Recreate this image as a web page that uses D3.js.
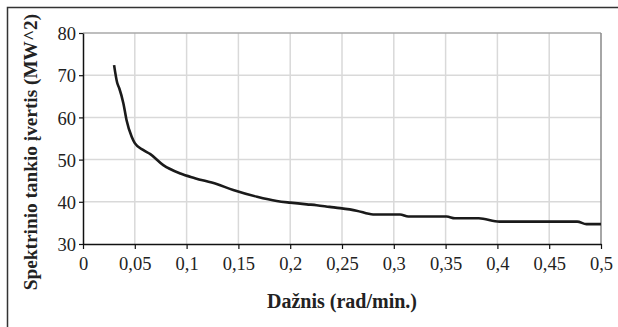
<!DOCTYPE html>
<html>
<head>
<meta charset="utf-8">
<script src="https://cdn.jsdelivr.net/npm/d3@7"></script>
<style>
	html, body { margin: 0; padding: 0; background: #fff; }
	svg text { font-family: "Liberation Serif", "DejaVu Serif", serif; fill: #222; }
</style>
</head>
<body>
<div id="chart"></div>
<script>
// spektrinio tankio įvertis pagal dažnį
const freq = [0.030, 0.033, 0.035, 0.039, 0.042, 0.047, 0.050, 0.058, 0.065, 0.0775, 0.094, 0.108,
	0.129, 0.145, 0.168, 0.187, 0.200, 0.216, 0.2255, 0.238, 0.248, 0.264, 0.280, 0.306, 0.314,
	0.351, 0.359, 0.382, 0.402, 0.477, 0.486, 0.500];
const density = [72.4, 68.2, 66.9, 63.3, 59.4, 55.4, 53.9, 52.3, 51.3, 48.7, 46.7, 45.6,
	44.2, 42.8, 41.2, 40.2, 39.8, 39.4, 39.2, 38.8, 38.5, 37.9, 37.0, 37.0, 36.5,
	36.5, 36.1, 36.1, 35.3, 35.3, 34.7, 34.7];
const xTicks = [0, 0.05, 0.1, 0.15, 0.2, 0.25, 0.3, 0.35, 0.4, 0.45, 0.5];
const yTicks = [30, 40, 50, 60, 70, 80];
const xTitle = 'Dažnis (rad/min.)';
const yTitle = 'Spektrinio tankio įvertis (MW^2)';

const width = 618;
const height = 327;
const margin = { left: 83, right: 17, top: 33, bottom: 83 };

const svg = d3.select('#chart')
	.append('svg')
		.attr('width', width)
		.attr('height', height);

// išorinis rėmelis
svg.append('path')
	.attr('d', `M7.5,${height + 2}V7.5H${width + 2}`)
	.attr('fill', 'none')
	.attr('stroke', '#333')
	.attr('stroke-width', 1.5);

const xScale = d3.scaleLinear()
	.domain([0, 0.5])
	.range([margin.left, width - margin.right]);
const yScale = d3.scaleLinear()
	.domain([30, 80])
	.range([height - margin.bottom, margin.top]);

const xStart = xScale(0), xEnd = xScale(0.5);
const yStart = yScale(30), yEnd = yScale(80);

// tinklelis
svg.append('g')
	.selectAll('line')
	.data(xTicks.slice(1, -1))
	.enter()
		.append('line')
			.attr('x1', d => xScale(d))
			.attr('x2', d => xScale(d))
			.attr('y1', yStart)
			.attr('y2', yEnd)
			.attr('stroke', '#d9d9d9')
			.attr('stroke-width', 1.5);

svg.append('g')
	.selectAll('line')
	.data(yTicks.slice(1, -1))
	.enter()
		.append('line')
			.attr('x1', xStart)
			.attr('x2', xEnd)
			.attr('y1', d => yScale(d))
			.attr('y2', d => yScale(d))
			.attr('stroke', '#d9d9d9')
			.attr('stroke-width', 1.5);

// viršutinė ir dešinė ribos
svg.append('line')
	.attr('x1', xStart).attr('x2', xEnd)
	.attr('y1', yEnd).attr('y2', yEnd)
	.attr('stroke', '#a8a8a8')
	.attr('stroke-width', 1.5);
svg.append('line')
	.attr('x1', xEnd).attr('x2', xEnd)
	.attr('y1', yEnd).attr('y2', yStart)
	.attr('stroke', '#888')
	.attr('stroke-width', 1.5);

const fmt = d => String(d).replace('.', ',');

const xAxis = svg.append('g')
	.attr('transform', `translate(0,${yStart})`)
	.call(d3.axisBottom(xScale).tickValues(xTicks).tickFormat(fmt).tickSize(5).tickSizeOuter(0).tickPadding(8));
const yAxis = svg.append('g')
	.attr('transform', `translate(${xStart},0)`)
	.call(d3.axisLeft(yScale).tickValues(yTicks).tickSize(4).tickSizeOuter(0).tickPadding(3));

[xAxis, yAxis].forEach(a => {
	a.select('.domain').attr('stroke', '#111').attr('stroke-width', 1.5);
	a.selectAll('.tick line').attr('stroke', '#111').attr('stroke-width', 1.2);
	a.selectAll('.tick text')
		.attr('font-family', '"Liberation Serif", serif')
		.attr('font-size', 18.5)
		.attr('fill', '#222');
});
yAxis.selectAll('.tick text').attr('dy', '0.36em');

// kreivė
const line = d3.line()
	.x((d, i) => xScale(freq[i]))
	.y(d => yScale(d))
	.curve(d3.curveMonotoneX);

svg.append('path')
	.datum(density)
	.attr('d', line)
	.attr('fill', 'none')
	.attr('stroke', '#1a1a1a')
	.attr('stroke-width', 2.6)
	.attr('stroke-linejoin', 'round');

// ašių pavadinimai
svg.append('text')
	.attr('x', (xStart + xEnd) / 2)
	.attr('y', 308)
	.attr('text-anchor', 'middle')
	.attr('font-size', 20)
	.attr('font-weight', 'bold')
	.text(xTitle);

svg.append('text')
	.attr('transform', 'translate(37,152) rotate(-90)')
	.attr('text-anchor', 'middle')
	.attr('font-size', 19.3)
	.attr('font-weight', 'bold')
	.text(yTitle);
</script>
</body>
</html>
